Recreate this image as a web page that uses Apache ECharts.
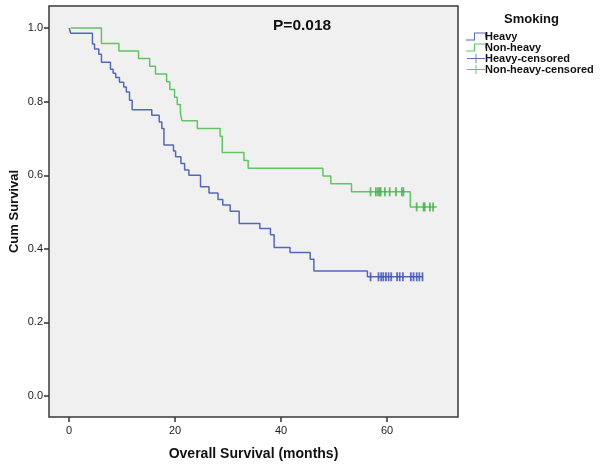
<!DOCTYPE html>
<html>
<head>
<meta charset="utf-8">
<script src="https://cdn.jsdelivr.net/npm/echarts@6/dist/echarts.min.js"></script>
<style>html,body{margin:0;padding:0;background:#fff;}#c{width:600px;height:465px;}</style>
</head>
<body>
<div id="c"></div>
<script>
// ---- data ----
const heavyTime = [0, 0.3, 4.4, 4.8, 5.6, 6.1, 7.8, 8.3, 8.8, 9.5, 10.3, 10.8, 11.4, 11.9, 15.6, 17.0, 17.5, 17.9, 19.7, 20.1, 21.1, 21.8, 22.6, 24.8, 26.4, 28.1, 29.0, 30.4, 32.1, 36.0, 38.0, 38.7, 41.7, 45.5, 46.2, 56.3, 66.8];
const heavySurv = [1.0, 0.986, 0.957, 0.943, 0.929, 0.907, 0.888, 0.877, 0.866, 0.853, 0.840, 0.826, 0.804, 0.778, 0.763, 0.745, 0.727, 0.682, 0.666, 0.650, 0.632, 0.614, 0.600, 0.569, 0.552, 0.534, 0.519, 0.502, 0.469, 0.455, 0.438, 0.404, 0.390, 0.372, 0.340, 0.324, 0.324];
const nonHeavyTime = [0.3, 6.1, 9.4, 13.1, 15.2, 16.3, 18.4, 19.0, 19.9, 20.4, 21.0, 21.3, 24.2, 28.5, 28.9, 33.0, 33.8, 47.9, 49.4, 53.3, 64.4, 69.4];
const nonHeavySurv = [1.0, 0.958, 0.938, 0.917, 0.896, 0.875, 0.854, 0.833, 0.812, 0.792, 0.768, 0.748, 0.727, 0.706, 0.662, 0.640, 0.619, 0.598, 0.577, 0.555, 0.514, 0.514];
const heavyCensored = [56.9, 58.4, 58.9, 59.3, 59.8, 60.3, 60.8, 61.9, 62.4, 63.0, 64.5, 65.0, 65.6, 66.1, 66.7];
const nonHeavyCensored = [56.9, 57.9, 58.3, 58.6, 58.8, 59.6, 60.5, 61.7, 62.8, 63.1, 65.6, 66.9, 67.1, 68.1, 68.7];
const xTicks = [0, 20, 40, 60];
const yTicks = [0, 0.2, 0.4, 0.6, 0.8, 1.0];
const groupNames = ['Heavy', 'Non-heavy', 'Heavy-censored', 'Non-heavy-censored'];
const pText = 'P=0.018';

// survival level at time t from a step curve
function levelAt(times, surv, t) {
  let s = surv[0];
  for (let i = 0; i < times.length; i++) { if (times[i] <= t) s = surv[i]; }
  return s;
}
const zip = (a, b) => a.map((v, i) => [v, b[i]]);

const blueLine = '#5468b8', greenLine = '#62c462';
const blueMark = '#3a4eb0', greenMark = '#3cb043';
const stepIcon = 'path://M0,8h9v1H0z M8,1h1v8H8z M8,1h12v1H8z M19,1h1v5h-1z';
const plusIcon = 'path://M0,4.5h20v1H0z M9.5,0h1v10h-1z';

const chart = echarts.init(document.getElementById('c'), null, {renderer: 'canvas'});
chart.setOption({
  animation: false,
  backgroundColor: '#ffffff',
  title: {
    text: 'Smoking', left: 499, top: 8,
    textStyle: {fontFamily: 'Arial, Liberation Sans', fontSize: 13, fontWeight: 'bold', color: '#111'}
  },
  legend: {
    orient: 'vertical', left: 461, top: 26, itemGap: 0,
    itemWidth: 20, itemHeight: 9,
    textStyle: {fontFamily: 'Arial, Liberation Sans', fontSize: 11, fontWeight: 'bold', color: '#111', lineHeight: 10, padding: [0, 0, 0, -6]},
    data: [
      {name: groupNames[0], icon: stepIcon},
      {name: groupNames[1], icon: stepIcon},
      {name: groupNames[2], icon: plusIcon},
      {name: groupNames[3], icon: plusIcon}
    ]
  },
  graphic: [{
    type: 'text', left: 273, top: 18,
    style: {text: pText, font: 'bold 15.5px Arial, Liberation Sans', fill: '#111'}
  }],
  grid: {
    left: 49, top: 6, right: 142, bottom: 48, show: true,
    outerBoundsMode: 'none', containLabel: false,
    backgroundColor: '#f0f0f0', borderColor: '#3a3a3a', borderWidth: 1.5
  },
  xAxis: {
    type: 'value', min: -3.8, max: 73.4,
    name: 'Overall Survival (months)', nameLocation: 'middle', nameGap: 30,
    nameTextStyle: {fontFamily: 'Arial, Liberation Sans', fontSize: 14, fontWeight: 'bold', color: '#111'},
    axisLine: {show: false, onZero: false},
    axisTick: {show: true, length: 5, customValues: xTicks, lineStyle: {color: '#333', width: 1.5}},
    axisLabel: {customValues: xTicks, margin: 8, fontFamily: 'Arial, Liberation Sans', fontSize: 11, color: '#222'},
    splitLine: {show: false}
  },
  yAxis: {
    type: 'value', min: -0.057, max: 1.06,
    name: 'Cum Survival', nameLocation: 'middle', nameGap: 28, nameMoveOverlap: false,
    nameTextStyle: {fontFamily: 'Arial, Liberation Sans', fontSize: 13, fontWeight: 'bold', color: '#111'},
    axisLine: {show: false, onZero: false},
    axisTick: {show: true, length: 5, customValues: yTicks, lineStyle: {color: '#333', width: 1.5}},
    axisLabel: {customValues: yTicks, margin: 6, formatter: v => v.toFixed(1), fontFamily: 'Arial, Liberation Sans', fontSize: 11, color: '#222'},
    splitLine: {show: false}
  },
  series: [
    {
      name: groupNames[0], type: 'line', step: 'end', showSymbol: false, symbol: 'none',
      data: zip(heavyTime, heavySurv),
      itemStyle: {color: blueLine}, lineStyle: {color: blueLine, width: 1.5}, z: 3
    },
    {
      name: groupNames[1], type: 'line', step: 'end', showSymbol: false, symbol: 'none',
      data: zip(nonHeavyTime, nonHeavySurv),
      itemStyle: {color: greenLine}, lineStyle: {color: greenLine, width: 1.5}, z: 3
    },
    {
      name: groupNames[2], type: 'scatter', symbol: 'rect', symbolSize: [1.8, 9],
      data: heavyCensored.map(t => [t, levelAt(heavyTime, heavySurv, t)]),
      itemStyle: {color: blueMark}, z: 4
    },
    {
      name: groupNames[3], type: 'scatter', symbol: 'rect', symbolSize: [1.8, 9],
      data: nonHeavyCensored.map(t => [t, levelAt(nonHeavyTime, nonHeavySurv, t)]),
      itemStyle: {color: greenMark}, z: 4
    }
  ]
});
</script>
</body>
</html>
